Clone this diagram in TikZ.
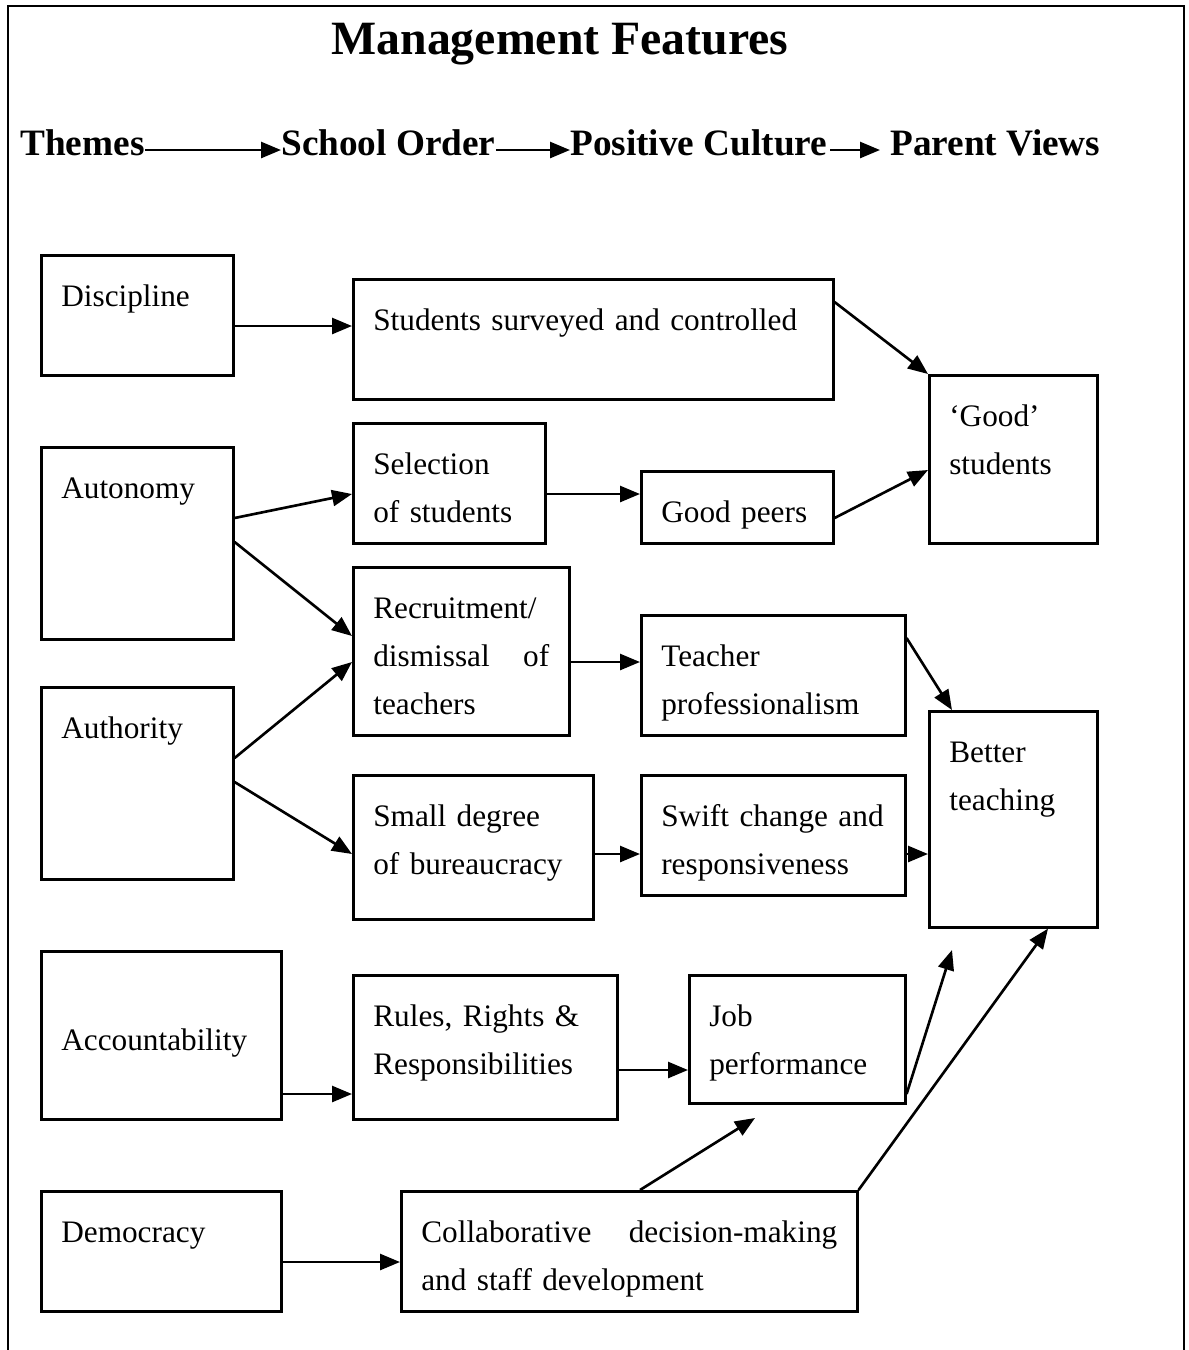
\documentclass[tikz,border=0pt]{standalone}
\usepackage{fontspec}
\setmainfont{Liberation Serif}
\usepackage{tikz}
\usetikzlibrary{arrows.meta}
\usetikzlibrary{positioning}
\newcommand\corpo{\fontsize{17.8}{27.3}\selectfont}
\tikzset{
  quadro/.style 2 args={draw, line width=1.5pt, anchor=north west, inner xsep=0.4cm, inner ysep=0pt, align=left, font=\corpo, text height=1.02cm, text width=#1, text depth=#2},
  cabeca/.style={inner sep=0pt, anchor=base west, font=\fontsize{21.2}{25}\selectfont\bfseries},
  flecha/.style={-{Triangle[length=0.4cm, width=0.32cm]}, line width=1.5pt},
}
\begin{document}
\begin{tikzpicture}[x=0.02cm, y=-0.02cm]
  \useasboundingbox (0,0) rectangle (1188,1350);
  \draw[line width=1.5pt] (8,1350) -- (8,6) -- (1184,6) -- (1184,1350);
  \node[inner sep=0pt, anchor=base, font=\fontsize{27.2}{32}\selectfont\bfseries] (titulo) at (560,54) {Management Features};
  \node[cabeca] (temas) at (20,155) {Themes};
  \node[cabeca] (ordem) at (281,155) {School Order};
  \node[cabeca] (cultura) at (570,155) {Positive Culture};
  \node[cabeca] (pais) at (890,155) {Parent Views};
  \draw[flecha] ([yshift=0.1cm]temas.base east) -- ([yshift=0.1cm]ordem.base west);
  \draw[flecha] ([yshift=0.1cm]ordem.base east) -- ([yshift=0.1cm]cultura.base west);
  \draw[flecha] ([yshift=0.1cm,xshift=0.05cm]cultura.base east) -- ([yshift=0.1cm,xshift=-0.2cm]pais.base west);

  \node[quadro={3.04cm}{1.38cm}] (disc) at (40,254) {Discipline};
  \node[quadro={3.04cm}{2.82cm}] (auto) at (40,446) {Autonomy};
  \node[quadro={3.04cm}{2.82cm}] (auth) at (40,686) {Authority};
  \node[quadro={4.0cm}{1.38cm}, text height=1.98cm] (acc) at (40,950) {Accountability};
  \node[quadro={4.0cm}{1.38cm}] (demo) at (40,1190) {Democracy};

  \node[quadro={8.8cm}{1.38cm}] (vigia) at (352,278) {Students surveyed and controlled};
  \node[quadro={3.04cm}{1.38cm}] (selec) at (352,422) {Selection\\of students};
  \node[quadro={3.52cm}{2.34cm}] (recru) at (352,566) {Recruitment/\\dismissal\hfill of\\teachers};
  \node[quadro={4.0cm}{1.86cm}] (buro) at (352,774) {Small degree\\of bureaucracy};
  \node[quadro={4.48cm}{1.86cm}] (regras) at (352,974) {Rules, Rights \&\\Responsibilities};
  \node[quadro={8.32cm}{1.38cm}] (colab) at (400,1190) {Collaborative\hfill decision-making\\and staff development};

  \node[quadro={3.04cm}{0.42cm}] (pares) at (640,470) {Good peers};
  \node[quadro={4.48cm}{1.38cm}] (profi) at (640,614) {Teacher\\professionalism};
  \node[quadro={4.48cm}{1.38cm}] (rapida) at (640,774) {Swift change and\\responsiveness};
  \node[quadro={3.52cm}{1.54cm}] (desemp) at (688,974) {Job\\performance};

  \node[quadro={2.56cm}{2.34cm}] (bons) at (928,374) {`Good'\\students};
  \node[quadro={2.56cm}{3.30cm}] (ensino) at (928,710) {Better\\teaching};

  \coordinate (fim1) at (952,950);
  \coordinate (fim2) at (755,1118);

  \draw[flecha] (disc.east |- 0,326) -- (vigia.west |- 0,326);
  \draw[flecha] (vigia.east |- 0,302) -- (bons.north west);
  \draw[flecha] (auto.east |- 0,518) -- (selec.west |- 0,494);
  \draw[flecha] (auto.east |- 0,542) -- (recru.west |- 0,636);
  \draw[flecha] (selec.east |- 0,494) -- (pares.west |- 0,494);
  \draw[flecha] (pares.east |- 0,518) -- (bons.west |- 0,470);
  \draw[flecha] (auth.east |- 0,758) -- (recru.west |- 0,662);
  \draw[flecha] (auth.east |- 0,782) -- (buro.west |- 0,854);
  \draw[flecha] (recru.east |- 0,662) -- (profi.west |- 0,662);
  \draw[flecha] (profi.east |- 0,638) -- (952,0 |- ensino.north);
  \draw[flecha] (buro.east |- 0,854) -- (rapida.west |- 0,854);
  \draw[flecha] (rapida.east |- 0,854) -- (ensino.west |- 0,854);
  \draw[flecha] (acc.east |- 0,1094) -- (regras.west |- 0,1094);
  \draw[flecha] (regras.east |- 0,1070) -- (desemp.west |- 0,1070);
  \draw[flecha] (desemp.east |- 0,1094) -- (fim1);
  \draw[flecha] (640,0 |- colab.north) -- (fim2);
  \draw[flecha] (colab.north east) -- (1048,0 |- ensino.south);
  \draw[flecha] (demo.east |- 0,1262) -- (colab.west |- 0,1262);
\end{tikzpicture}
\end{document}
